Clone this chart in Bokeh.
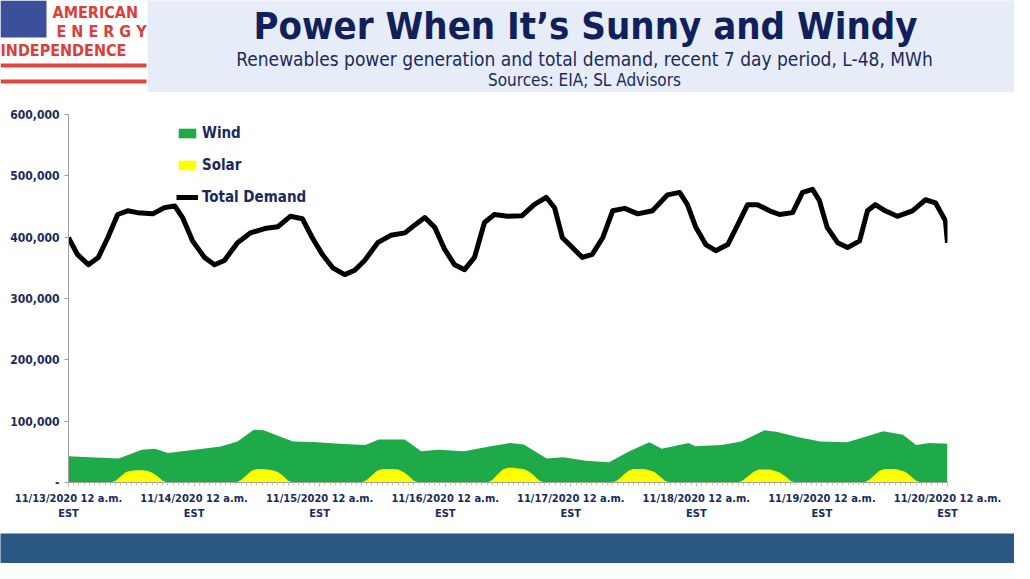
from bokeh.plotting import figure
from bokeh.layouts import column
from bokeh.models import (Label, FixedTicker, NumeralTickFormatter, Legend, LegendItem, Range1d)
from bokeh.embed import file_html
from bokeh.resources import INLINE

# ---- data (hours since 11/13/2020 12 a.m. EST) ----
demand_hours = [0, 1.7, 3.8, 5.7, 7.5, 9.4, 11.3, 13.2, 16.1, 18.3, 20.3, 21.8, 23.7, 26.0, 27.9,
                29.8, 32.3, 34.8, 37.5, 40.0, 42.4, 44.7, 46.6, 48.5, 50.5, 52.8, 54.7, 56.6, 59.1,
                61.6, 64.3, 66.2, 68.1, 70.0, 71.9, 73.8, 75.7, 77.6, 79.5, 81.4, 83.9, 86.7, 89.0,
                91.3, 92.9, 94.4, 96.3, 98.2, 100.1, 102.1, 104.0, 106.3, 108.8, 111.6, 114.5,
                116.8, 118.3, 119.9, 121.8, 123.7, 126.0, 127.9, 129.8, 131.7, 134.0, 135.9, 138.4,
                140.3, 142.2, 143.5, 145.0, 147.0, 148.9, 151.2, 152.7, 154.2, 156.1, 158.4, 161.3,
                163.8, 165.7, 167.6, 168.0]
demand = [399, 372, 355, 367, 399, 437, 443, 440, 438, 448, 451, 432, 394, 367, 355,
          362, 391, 407, 414, 417, 434, 430, 399, 372, 350, 339, 346, 362, 391,
          403, 407, 420, 432, 416, 380, 355, 347, 367, 424, 437, 434, 435, 453,
          465, 448, 399, 383, 367, 372, 399, 443, 447, 438, 443, 469,
          473, 453, 416, 388, 378, 388, 420, 453, 453, 443, 437, 440,
          473, 478, 460, 416, 391, 383, 394, 443, 453, 443, 434, 443,
          461, 456, 427, 391]
demand = [v * 1000 for v in demand]

ren_hours = [0, 4.0, 9.6, 14.0, 16.5, 19.0, 24.1, 29.1, 32.3, 35.4, 37.3, 40.4, 42.9, 46.7,
             51.8, 56.7, 59.3, 64.3, 67.4, 70.6, 75.6, 80.7, 84.4, 87.0, 91.4, 94.6, 98.9,
             103.3, 107.2, 111.0, 113.4, 118.5, 119.8, 124.8, 128.6, 133.0, 135.5, 139.3,
             143.7, 148.8, 152.5, 155.7, 159.5, 162.0, 164.5, 168.0]
renewables_total = [42.6, 41, 39, 53.5, 55, 48, 53.5, 58.5, 67, 86, 85, 75, 67, 66,
                    63, 61, 70, 70, 51, 53.5, 51, 59, 64.5, 62, 39, 41, 35.5,
                    33, 51, 65.5, 55, 64.5, 59, 61, 67, 85, 82.5, 74,
                    67, 65.5, 75, 83.5, 78, 61, 64.5, 63]
renewables_total = [v * 1000 for v in renewables_total]

solar_hours = list(range(0, 169))
solar_day1 = [0]*8 + [0, 3, 10, 17, 19, 20, 20, 19, 16, 10, 3, 0] + [0]*4
solar_day2 = [0]*8 + [0, 4, 12, 19, 22, 22, 21, 20, 17, 11, 3, 0] + [0]*4
solar_day3 = [0]*8 + [0, 4, 12, 19, 22, 22, 22, 21, 17, 11, 3, 0] + [0]*4
solar_day4 = [0]*8 + [0, 4, 13, 21, 24, 24, 23, 22, 18, 11, 3, 0] + [0]*4
solar_day5 = [0]*8 + [0, 4, 12, 19, 22, 22, 22, 20, 17, 10, 3, 0] + [0]*4
solar_day6 = [0]*8 + [0, 4, 11, 18, 21, 21, 21, 19, 16, 10, 3, 0] + [0]*4
solar_day7 = [0]*8 + [0, 4, 12, 19, 22, 22, 22, 20, 17, 10, 3, 0] + [0]*4
solar = [v * 1000 for v in (solar_day1 + solar_day2 + solar_day3 + solar_day4 +
                            solar_day5 + solar_day6 + solar_day7 + [0])]

tick_hours = [0, 24, 48, 72, 96, 120, 144, 168]
tick_labels = ["11/13/2020 12 a.m.", "11/14/2020 12 a.m.", "11/15/2020 12 a.m.",
               "11/16/2020 12 a.m.", "11/17/2020 12 a.m.", "11/18/2020 12 a.m.",
               "11/19/2020 12 a.m.", "11/20/2020 12 a.m."]
y_ticks = [0, 100000, 200000, 300000, 400000, 500000, 600000]

NAVY = "#1b2a5c"
FONT = "DejaVu Sans Condensed, Liberation Sans Narrow, Liberation Sans, sans-serif"
W = 1014

def blank(h, color):
    f = figure(width=W, height=h, output_backend="svg", toolbar_location=None,
               x_range=Range1d(0, W), y_range=Range1d(h, 0), min_border=0,
               min_border_left=0, min_border_right=0, min_border_top=0, min_border_bottom=0)
    f.axis.visible = False
    f.grid.visible = False
    f.outline_line_color = None
    f.background_fill_color = color
    f.border_fill_color = color
    f.frame_align = False
    return f

# ---- header ----
HH = 92
hdr = blank(HH, "#e6edf8")
hdr.quad(left=0, right=147, top=0, bottom=HH, fill_color="white", line_color=None)
hdr.quad(left=0, right=46, top=0, bottom=37, fill_color="#3b4f9a", line_color=None)
hdr.quad(left=0, right=146, top=[63, 79], bottom=[67, 83], fill_color="#e0453e", line_color=None)
RED = "#d9403a"
for txt, x, y in (("AMERICAN", 52, 2), ("E N E R G Y", 56, 21), ("INDEPENDENCE", 0, 40)):
    hdr.add_layout(Label(x=x, y=y, text=txt, text_font=FONT, text_font_size="16px",
                         text_font_style="bold", text_color=RED, text_baseline="top"))
hdr.add_layout(Label(x=585, y=3, text="Power When It\u2019s Sunny and Windy", text_font=FONT,
                     text_font_style="bold", text_font_size="38px", text_color="#10205a",
                     text_align="center", text_baseline="top"))
hdr.add_layout(Label(x=584, y=47, text="Renewables power generation and total demand, recent 7 day period, L-48, MWh",
                     text_font=FONT, text_font_size="19px", text_color=NAVY,
                     text_align="center", text_baseline="top"))
hdr.add_layout(Label(x=584, y=69, text="Sources: EIA; SL Advisors", text_font=FONT,
                     text_font_size="17px", text_color=NAVY, text_align="center",
                     text_baseline="top"))

# ---- main chart ----
p = figure(width=W, height=441, output_backend="svg", toolbar_location=None,
           x_range=Range1d(0, 168), y_range=Range1d(0, 600000),
           min_border_left=68, min_border_right=67, min_border_top=22, min_border_bottom=51)
p.outline_line_color = None
p.grid.visible = False

g = p.varea(x=ren_hours, y1=0, y2=renewables_total, fill_color="#1faa4a")
s = p.varea(x=solar_hours, y1=0, y2=solar, fill_color="#ffff00")
d = p.line(x=demand_hours, y=demand, line_color="black", line_width=5, line_join="round")

legend = Legend(items=[LegendItem(label="Wind", renderers=[g]),
                       LegendItem(label="Solar", renderers=[s]),
                       LegendItem(label="Total Demand", renderers=[d])],
                location=(108, 276), background_fill_alpha=0, border_line_color=None,
                label_text_font=FONT, label_text_font_style="bold",
                label_text_font_size="15px", label_text_color=NAVY,
                glyph_width=22, glyph_height=12, spacing=14, label_standoff=4)
p.add_layout(legend, "center")

p.xaxis.ticker = FixedTicker(ticks=tick_hours, minor_ticks=list(range(0, 169)))
p.xaxis.major_label_overrides = {h: l + "\nEST" for h, l in zip(tick_hours, tick_labels)}
p.yaxis.ticker = FixedTicker(ticks=y_ticks)
p.yaxis.formatter = NumeralTickFormatter(format="0,0")
p.yaxis.major_label_overrides = {0: "-"}
for ax in (p.xaxis, p.yaxis):
    ax.axis_line_color = "#a0a0a0"
    ax.major_tick_line_color = "#a0a0a0"
    ax.minor_tick_line_color = "#c8c890"
    ax.major_tick_in = 0
    ax.major_tick_out = 4
    ax.minor_tick_in = 0
    ax.minor_tick_out = 3
    ax.major_label_text_font = FONT
    ax.major_label_text_font_style = "bold"
    ax.major_label_text_font_size = "12px"
    ax.major_label_text_color = NAVY
p.xaxis.major_label_text_font_size = "11px"
p.yaxis.minor_tick_line_color = None

# ---- bottom band ----
bot = blank(30, "#2b5785")

open("out.html", "w").write(file_html(column(hdr, p, bot, spacing=0), INLINE))
